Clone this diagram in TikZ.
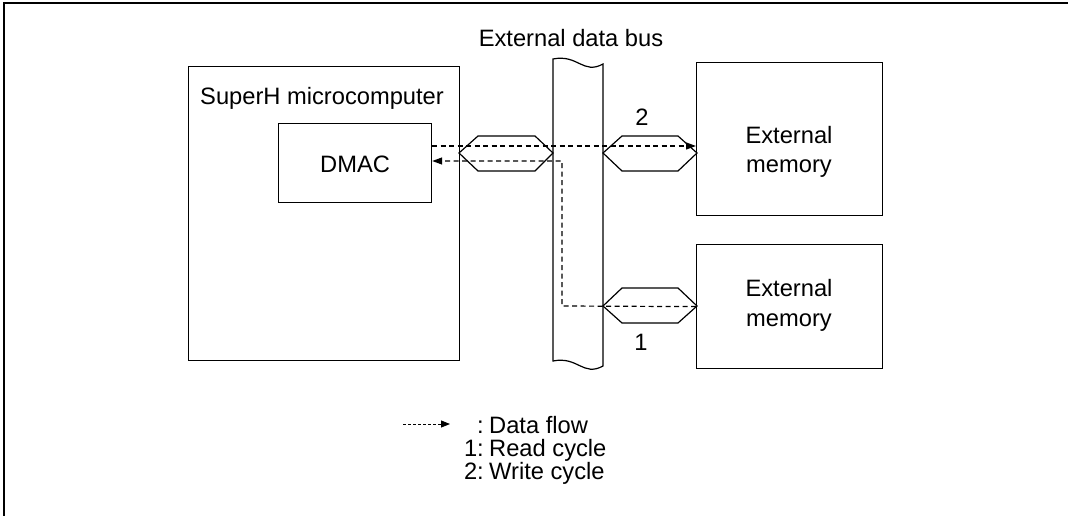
\documentclass[tikz,border=0pt]{standalone}
\usepackage{fontspec}
\setmainfont{Liberation Sans}
\usetikzlibrary{arrows.meta}
\begin{document}
\begin{tikzpicture}[x=1pt,y=-1pt,
  box/.style={draw, rectangle, line width=1.2pt, inner sep=0pt, anchor=north west},
  lbl/.style={inner sep=0pt, anchor=base, font=\fontsize{23.7}{29}\selectfont},
  flow/.style={line width=1.2pt, dash pattern=on 5pt off 3.5pt, -{Triangle[length=10pt,width=7pt]}},
  legflow/.style={line width=0.9pt, dash pattern=on 2.5pt off 2.5pt, -{Triangle[length=9pt,width=7pt]}},
  hexshape/.style={draw, line width=1.2pt, fill=white, line join=miter},
  busshape/.style={draw, line width=1.2pt, fill=white}]
\useasboundingbox (0,0) rectangle (1068,516);
% frame
\draw[line width=2pt] (1068,3) -- (4,3) -- (4,516);
% boxes
\node[box, minimum width=271pt, minimum height=294pt] (cpu) at (188,66) {};
\node[box, minimum width=153pt, minimum height=79pt] (dmac) at (278,123) {};
\node[box, minimum width=186pt, minimum height=153pt] (mem1) at (696,62) {};
\node[box, minimum width=186pt, minimum height=124pt] (mem2) at (696,244) {};
% texts
\node[lbl] (bustxt) at (571,47) {External data bus};
\node[lbl, anchor=base west] (cputxt) at (200,105) {SuperH microcomputer};
\node[lbl] (dmactxt) at (dmac.center |- 0,172) {DMAC};
\node[lbl] (m1a) at (789,143) {External};
\node[lbl] (m1b) at (789,172) {memory};
\node[lbl] (m2a) at (789,296) {External};
\node[lbl] (m2b) at (789,326) {memory};
\node[lbl] (two) at (642,126) {2};
\node[lbl] (one) at (641,350) {1};
% bus
\path[busshape] (553,59) .. controls (578,54) and (583,75) .. (603,64)
  -- (603,366) .. controls (583,377) and (578,356) .. (553,361) -- cycle;
% bus transceiver hexagons
\draw[hexshape] (459,153) -- (478,136) -- (535,136) -- (553,153) -- (535,171) -- (478,171) -- cycle;
\draw[hexshape] (603,153) -- (622,136) -- (678,136) -- (697,153) -- (678,171) -- (622,171) -- cycle;
\draw[hexshape] (603,306) -- (622,288) -- (678,288) -- (697,306) -- (678,323) -- (622,323) -- cycle;
% data flows
\coordinate (wy) at (0,146);
\coordinate (ry) at (0,161);
\coordinate (bend) at (562,306);
\draw[flow] (dmac.east |- wy) -- (mem1.west |- wy);
\draw[flow] (mem2.west) -- (bend) |- (dmac.east |- ry);
% legend
\coordinate (lg1) at (403,424);
\coordinate (lg2) at (450,424);
\draw[legflow] (lg1) -- (lg2);
\node[lbl, anchor=base east] (c0) at (484,433) {:};
\node[lbl, anchor=base west] (l0) at (489,433) {Data flow};
\node[lbl, anchor=base east] (c1) at (484,456) {1:};
\node[lbl, anchor=base west] (l1) at (489,456) {Read cycle};
\node[lbl, anchor=base east] (c2) at (484,479) {2:};
\node[lbl, anchor=base west] (l2) at (489,479) {Write cycle};
\end{tikzpicture}
\end{document}
